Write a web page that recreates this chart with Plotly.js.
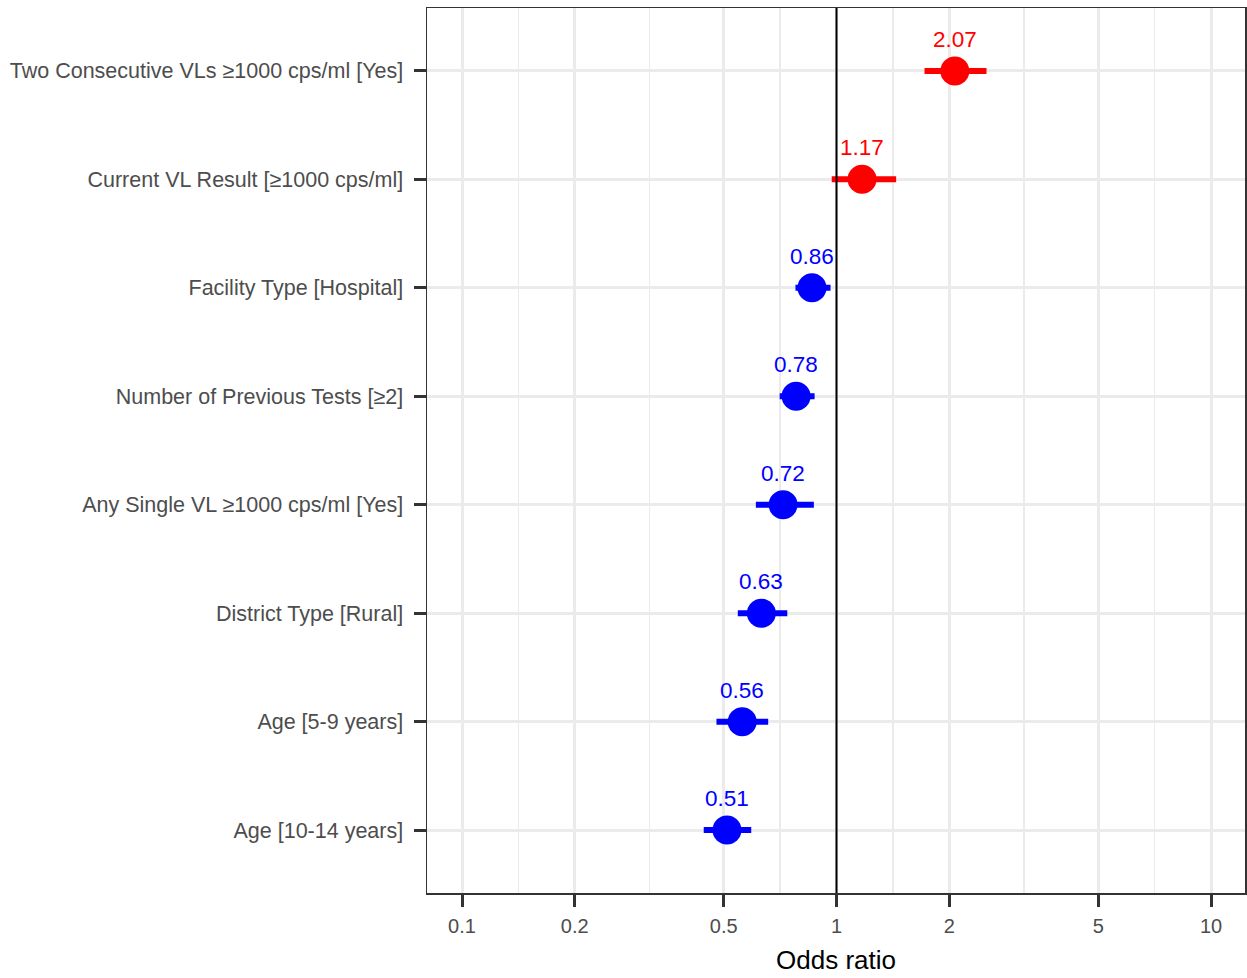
<!DOCTYPE html>
<html>
<head>
<meta charset="utf-8">
<script src="https://cdn.plot.ly/plotly-3.0.1.min.js"></script>
<style>
  html, body { margin: 0; padding: 0; background: #fff; }
  #chart { width: 1247px; height: 978px; }
</style>
</head>
<body>
<div id="chart"></div>
<script>
// Predictors, listed bottom to top
const predictors = [
  "Age [10-14 years]",
  "Age [5-9 years]",
  "District Type [Rural]",
  "Any Single VL ≥1000 cps/ml [Yes]",
  "Number of Previous Tests [≥2]",
  "Facility Type [Hospital]",
  "Current VL Result [≥1000 cps/ml]",
  "Two Consecutive VLs ≥1000 cps/ml [Yes]"
];
const oddsRatio = [0.51, 0.56, 0.63, 0.72, 0.78, 0.86, 1.17, 2.07];
const ciLow     = [0.442, 0.478, 0.545, 0.609, 0.705, 0.777, 0.971, 1.718];
const ciHigh    = [0.592, 0.657, 0.739, 0.870, 0.874, 0.964, 1.443, 2.515];
const labels    = ["0.51", "0.56", "0.63", "0.72", "0.78", "0.86", "1.17", "2.07"];

const xTickVals = [0.1, 0.2, 0.5, 1, 2, 5, 10];
const xTickText = ["0.1", "0.2", "0.5", "1", "2", "5", "10"];
const xMinorVals = [0.1414, 0.3162, 0.7071, 1.4142, 3.1623, 7.0711];
const nullRatio = 1;

const FONT = "Liberation Sans, Arial, sans-serif";
const RED = "#FF0000", BLUE = "#0000FF";
const colorOf = v => (v > nullRatio ? RED : BLUE);

// confidence interval segments, one trace per colour
function ciTrace(color) {
  const x = [], y = [];
  predictors.forEach((p, i) => {
    if (colorOf(oddsRatio[i]) !== color) return;
    x.push(ciLow[i], ciHigh[i], null);
    y.push(p, p, null);
  });
  return {
    type: "scatter", mode: "lines", x, y,
    line: { color, width: 6 },
    hoverinfo: "skip", showlegend: false
  };
}

const traces = [
  // reference line at OR = 1, spanning the full panel height
  {
    type: "scatter", mode: "lines",
    x: [nullRatio, nullRatio], y: [0, 1], yaxis: "y2",
    line: { color: "#000", width: 2 },
    hoverinfo: "skip", showlegend: false
  },
  ciTrace(RED),
  ciTrace(BLUE),
  {
    type: "scatter", mode: "markers",
    x: oddsRatio, y: predictors,
    marker: { size: 29, color: oddsRatio.map(colorOf) },
    showlegend: false
  }
];

const annotations = predictors.map((p, i) => ({
  x: Math.log10(oddsRatio[i]), y: p, xref: "x", yref: "y",
  text: labels[i], showarrow: false,
  yanchor: "bottom", yshift: 17,
  font: { family: FONT, size: 22.5, color: colorOf(oddsRatio[i]) }
}));

const layout = {
  width: 1247, height: 978,
  margin: { l: 427, r: 2, t: 8, b: 85 },
  paper_bgcolor: "#fff", plot_bgcolor: "#fff",
  font: { family: FONT },
  xaxis: {
    type: "log",
    range: [-1.0935, 1.0908],
    tickmode: "array", tickvals: xTickVals, ticktext: xTickText,
    ticks: "outside", ticklen: 12, tickwidth: 3, tickcolor: "#333333",
    ticklabelstandoff: 2,
    tickfont: { size: 20, color: "#4D4D4D" },
    showgrid: true, gridcolor: "#EBEBEB", gridwidth: 3,
    minor: { tickmode: "array", tickvals: xMinorVals, showgrid: true, gridcolor: "#EBEBEB", gridwidth: 1.5, ticks: "" },
    zeroline: false,
    showline: true, linecolor: "#333333", linewidth: 1.5, mirror: true,
    title: { text: "Odds ratio", font: { size: 26, color: "#000" }, standoff: 15 }
  },
  yaxis: {
    type: "category",
    categoryorder: "array", categoryarray: predictors,
    range: [-0.58, 7.58],
    ticks: "outside", ticklen: 12, tickwidth: 3, tickcolor: "#333333",
    ticklabelstandoff: 6,
    tickfont: { size: 21.5, color: "#4D4D4D" },
    showgrid: true, gridcolor: "#EBEBEB", gridwidth: 3,
    zeroline: false,
    showline: true, linecolor: "#333333", linewidth: 1.5, mirror: true
  },
  yaxis2: {
    overlaying: "y", range: [0, 1], visible: false, fixedrange: true
  },
  annotations
};

Plotly.newPlot("chart", traces, layout, { displayModeBar: false, staticPlot: true });
</script>
</body>
</html>
